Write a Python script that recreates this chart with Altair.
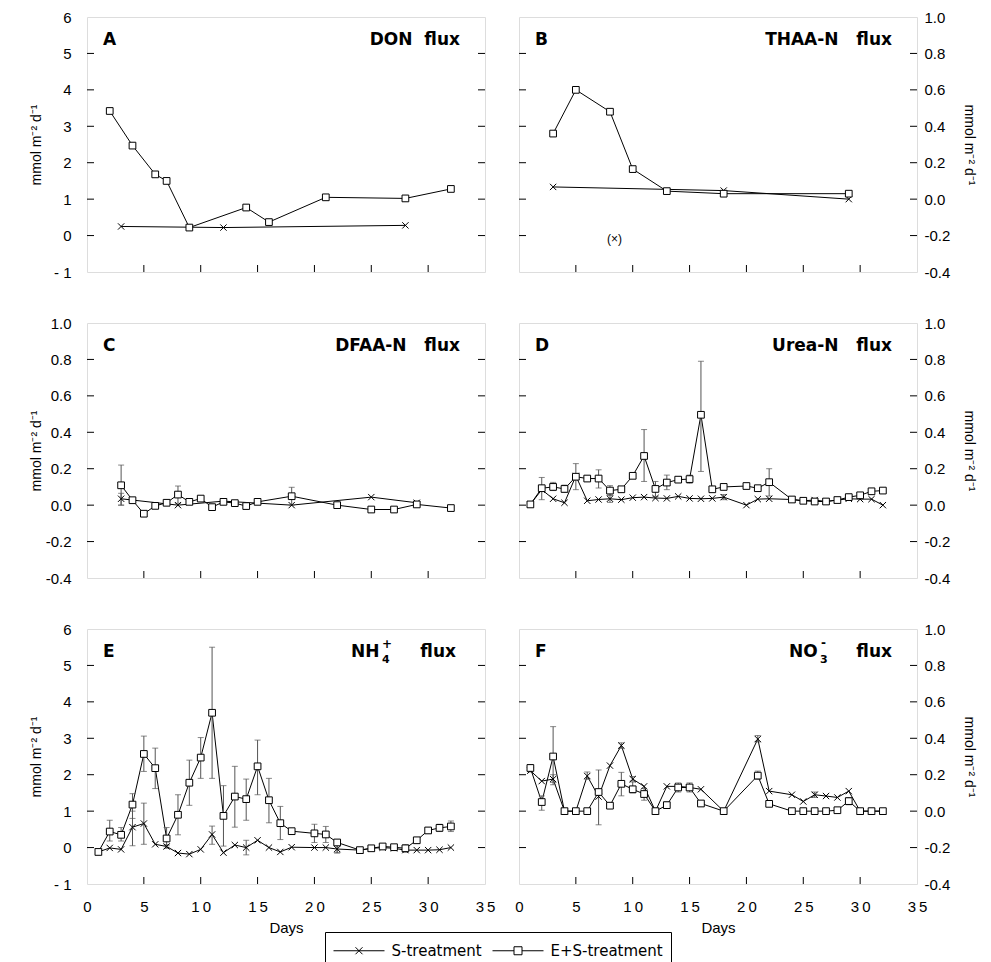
import altair as alt
import pandas as pd

TREATMENTS = ["S-treatment", "E+S-treatment"]
DAY_TICKS = [0, 5, 10, 15, 20, 25, 30, 35]
BIG_TICKS = [-1, 0, 1, 2, 3, 4, 5, 6]
SMALL_TICKS = [-0.4, -0.2, 0.0, 0.2, 0.4, 0.6, 0.8, 1.0]

# ---- Panel A: DON flux ----
A_S_day = [3, 12, 28]
A_S_val = [0.25, 0.22, 0.28]
A_S_err = {}
A_ES_day = [2, 4, 6, 7, 9, 14, 16, 21, 28, 32]
A_ES_val = [3.42, 2.47, 1.68, 1.50, 0.22, 0.77, 0.37, 1.05, 1.02, 1.28]
A_ES_err = {}

# ---- Panel B: THAA-N flux ----
B_S_day = [3, 18, 29]
B_S_val = [0.067, 0.047, 0.0]
B_S_err = {}
B_ES_day = [3, 5, 8, 10, 13, 18, 29]
B_ES_val = [0.36, 0.60, 0.48, 0.165, 0.044, 0.03, 0.03]
B_ES_err = {}
B_NOTE_DAY = [8.4]
B_NOTE_VAL = [-0.22]
B_NOTE_TEXT = ["(×)"]

# ---- Panel C: DFAA-N flux ----
C_S_day = [3, 8, 12, 18, 25, 29]
C_S_val = [0.035, 0.0, 0.022, 0.0, 0.044, 0.013]
C_S_err = {3: (0.0, 0.065)}
C_ES_day = [3, 4, 5, 6, 7, 8, 9, 10, 11, 12, 13, 14, 15, 18, 22, 25, 27, 29, 32]
C_ES_val = [0.109, 0.027, -0.047, -0.004, 0.013, 0.058, 0.018, 0.036, -0.011, 0.018,
            0.011, -0.005, 0.018, 0.049, 0.0, -0.024, -0.024, 0.004, -0.016]
C_ES_err = {3: (0.0, 0.22), 5: (-0.055, -0.04), 8: (0.01, 0.105), 10: (0.028, 0.044),
            18: (0.0, 0.098)}

# ---- Panel D: Urea-N flux ----
D_days = [1, 2, 3, 4, 5, 6, 7, 8, 9, 10, 11, 12, 13, 14, 15, 16, 17, 18, 20, 21, 22,
          24, 25, 26, 27, 28, 29, 30, 31, 32]
D_S_val = [0.004, 0.085, 0.035, 0.013, 0.16, 0.024, 0.031, 0.035, 0.03, 0.041, 0.044,
           0.039, 0.037, 0.048, 0.037, 0.035, 0.037, 0.044, 0.0, 0.033, 0.035, 0.031,
           0.024, 0.028, 0.02, 0.028, 0.035, 0.033, 0.033, 0.0]
D_S_err = {8: (0.015, 0.055), 18: (0.03, 0.058)}
D_ES_val = [0.004, 0.093, 0.10, 0.089, 0.156, 0.146, 0.146, 0.08, 0.087, 0.161, 0.27,
            0.089, 0.124, 0.14, 0.143, 0.496, 0.087, 0.10, 0.105, 0.093, 0.126, 0.031,
            0.024, 0.02, 0.02, 0.028, 0.044, 0.054, 0.076, 0.08]
D_ES_err = {2: (0.03, 0.152), 3: (0.08, 0.125), 4: (0.07, 0.11), 5: (0.085, 0.228),
            6: (0.13, 0.16), 7: (0.094, 0.194), 8: (0.054, 0.107), 10: (0.15, 0.17),
            11: (0.13, 0.415), 12: (0.048, 0.13), 13: (0.085, 0.165), 14: (0.125, 0.155),
            15: (0.12, 0.165), 16: (0.185, 0.79), 18: (0.09, 0.11), 21: (0.078, 0.108),
            22: (0.05, 0.2), 26: (0.01, 0.035), 29: (0.03, 0.06), 30: (0.04, 0.068),
            31: (0.06, 0.09)}

# ---- Panel E: NH4+ flux ----
E_days = [1, 2, 3, 4, 5, 6, 7, 8, 9, 10, 11, 12, 13, 14, 15, 16, 17, 18, 20, 21, 22,
          24, 25, 26, 27, 28, 29, 30, 31, 32]
E_S_val = [-0.12, -0.01, -0.05, 0.56, 0.66, 0.09, 0.03, -0.15, -0.18, -0.05, 0.36,
           -0.14, 0.07, 0.0, 0.2, 0.0, -0.12, 0.01, 0.0, 0.0, -0.04, -0.07, -0.02, 0.0,
           -0.02, -0.07, -0.07, -0.07, -0.06, 0.0]
E_S_err = {4: (0.05, 1.0), 5: (0.09, 1.22), 7: (-0.02, 0.08), 11: (0.09, 0.59),
           14: (-0.2, 0.2), 22: (-0.14, 0.06), 28: (-0.12, 0.0)}
E_ES_val = [-0.12, 0.44, 0.35, 1.18, 2.57, 2.18, 0.25, 0.9, 1.78, 2.47, 3.7, 0.87, 1.4,
            1.33, 2.23, 1.3, 0.67, 0.45, 0.39, 0.36, 0.14, -0.07, -0.02, 0.03, 0.01,
            -0.02, 0.2, 0.47, 0.54, 0.58]
E_ES_err = {2: (0.18, 0.75), 3: (0.18, 0.55), 4: (0.8, 1.48), 5: (2.09, 3.06),
            6: (1.62, 2.73), 7: (0.05, 0.55), 8: (0.35, 1.45), 9: (1.16, 2.4),
            10: (1.9, 3.02), 11: (1.9, 5.5), 12: (0.04, 1.7), 13: (0.56, 2.23),
            14: (0.75, 1.88), 15: (1.45, 2.95), 16: (0.68, 1.9), 17: (0.22, 1.13),
            20: (0.14, 0.64), 21: (0.14, 0.58), 22: (-0.15, 0.2), 28: (-0.12, 0.08),
            30: (0.39, 0.55), 31: (0.44, 0.64), 32: (0.44, 0.73)}

# ---- Panel F: NO3- flux ----
F_days = [1, 2, 3, 4, 5, 6, 7, 8, 9, 10, 11, 12, 13, 14, 15, 16, 18, 21, 22, 24, 25,
          26, 27, 28, 29, 30, 31, 32]
F_S_val = [0.222, 0.165, 0.176, 0.0, 0.0, 0.193, 0.08, 0.25, 0.36, 0.176, 0.136, 0.0,
           0.136, 0.136, 0.13, 0.12, 0.0, 0.396, 0.11, 0.09, 0.053, 0.09, 0.083, 0.075,
           0.11, 0.0, 0.0, 0.0]
F_S_err = {3: (0.145, 0.2), 6: (0.175, 0.215), 9: (0.345, 0.375), 10: (0.165, 0.19),
           21: (0.38, 0.415), 26: (0.075, 0.105)}
F_ES_val = [0.237, 0.05, 0.30, 0.0, 0.0, 0.0, 0.105, 0.03, 0.15, 0.12, 0.094, 0.0, 0.033,
            0.13, 0.13, 0.042, 0.0, 0.195, 0.04, 0.0, 0.0, 0.0, 0.0, 0.005, 0.055, 0.0,
            0.0, 0.0]
F_ES_err = {1: (0.215, 0.255), 2: (0.005, 0.084), 3: (0.158, 0.464), 7: (-0.075, 0.226),
            9: (0.084, 0.213), 10: (0.10, 0.16), 11: (0.06, 0.125), 13: (0.015, 0.05),
            14: (0.105, 0.155), 15: (0.105, 0.155), 21: (0.175, 0.22), 29: (0.035, 0.075)}

# ---------------------------------------------------------------------------
W, H = 398, 255
FONT = "Liberation Sans"
BOLD = "DejaVu Sans"
ERR = "#555555"
X_PATH = "M-1,-1L1,1M-1,1L1,-1"
LEG_S = "M-2.55,0L2.55,0M-0.35,-0.35L0.35,0.35M-0.35,0.35L0.35,-0.35"
LEG_ES = "M-2.55,0L-0.4,0M0.4,0L2.55,0M-0.4,-0.4L0.4,-0.4L0.4,0.4L-0.4,0.4Z"
YTITLE = "mmol m⁻² d⁻¹"
BIG_EXPR = "datum.value < 0 ? '- ' + format(-datum.value, 'd') : format(datum.value, 'd')"
SMALL_EXPR = "datum.value < 0 ? '-' + format(-datum.value, '.1f') : format(datum.value, '.1f')"
X_EXPR = ("datum.value >= 10 ? slice(toString(datum.value), 0, 1) + '\u2009' + "
          "slice(toString(datum.value), 1) : toString(datum.value)")


def build(s_day, s_val, s_err, es_day, es_val, es_err):
    rows = []
    for name, days, vals, err in [(TREATMENTS[0], s_day, s_val, s_err),
                                  (TREATMENTS[1], es_day, es_val, es_err)]:
        for d, v in zip(days, vals):
            lo, hi = err.get(d, (None, None))
            rows.append({"day": d, "value": v, "treatment": name, "lo": lo, "hi": hi})
    return pd.DataFrame(rows)


def yaxis(right, ticks, expr):
    common = dict(values=ticks, labelExpr=expr, ticks=False, domain=False, grid=False,
                  labelFont=FONT, labelFontSize=15, labelColor="black",
                  title=YTITLE, titleFont=FONT, titleFontSize=14, titleFontWeight="normal",
                  titleColor="black", titleY=H / 2, titleAlign="center",
                  titleBaseline="middle")
    if right:
        return alt.Axis(orient="right", titleX=51, titleAngle=90, labelAlign="left",
                        labelPadding=7, **common)
    return alt.Axis(orient="left", titleX=-51, titleAngle=270, labelPadding=16, **common)


def xaxis():
    return alt.Axis(values=DAY_TICKS, labelExpr=X_EXPR, ticks=False, domain=False,
                    grid=False, labelFont=FONT, labelFontSize=15, labelColor="black",
                    labelPadding=15, labelFlush=False, title="Days", titleFont=FONT,
                    titleFontSize=15, titleFontWeight="normal", titleColor="black",
                    titlePadding=6)


DUMMY = pd.DataFrame({"k": [0]})


def panel(df, big, right, xlabels, letter, pieces, note=None, legend=False):
    ydom = [-1, 6] if big else [-0.4, 1.0]
    yt = BIG_TICKS if big else SMALL_TICKS
    expr = BIG_EXPR if big else SMALL_EXPR
    xs = alt.Scale(domain=[0, 35], nice=False, zero=False)
    ys = alt.Scale(domain=ydom, nice=False, zero=False)
    yax = yaxis(right, yt, expr)

    def X(field):
        if xlabels:
            return alt.X(field, scale=xs, axis=xaxis())
        return alt.X(field, scale=xs, axis=None)

    def Y(field):
        return alt.Y(field, scale=ys, axis=yax)

    base = alt.Chart(df)
    line = base.mark_line(color="black", strokeWidth=1).encode(
        x=X("day:Q"), y=Y("value:Q"), detail="treatment:N")

    errdf = base.transform_filter("isValid(datum.lo)")
    err = errdf.mark_rule(color=ERR, strokeWidth=1).encode(
        x=X("day:Q"), y=Y("lo:Q"), y2="hi:Q")
    cap_lo = errdf.mark_tick(orient="horizontal", color=ERR, size=6, thickness=1).encode(
        x=X("day:Q"), y=Y("lo:Q"))
    cap_hi = errdf.mark_tick(orient="horizontal", color=ERR, size=6, thickness=1).encode(
        x=X("day:Q"), y=Y("hi:Q"))

    pts_s = base.transform_filter(alt.datum.treatment == TREATMENTS[0]).mark_point(
        shape=X_PATH, size=40, filled=False, color="black", strokeWidth=1, opacity=1
    ).encode(x=X("day:Q"), y=Y("value:Q"))
    pts_es = base.transform_filter(alt.datum.treatment == TREATMENTS[1]).mark_point(
        shape="square", size=45, filled=True, fill="white", stroke="black",
        strokeWidth=1, opacity=1
    ).encode(x=X("day:Q"), y=Y("value:Q"))

    tb = alt.Chart(pd.DataFrame({"t": DAY_TICKS[1:-1]})).mark_rule(
        color="black", strokeWidth=1).encode(
        x=X("t:Q"), y=alt.value(H), y2=alt.value(H - 7))
    tl = alt.Chart(pd.DataFrame({"t": yt[1:-1]})).mark_rule(
        color="black", strokeWidth=1).encode(
        y=Y("t:Q"), x=alt.value(0), x2=alt.value(7))
    tr = alt.Chart(pd.DataFrame({"t": yt[1:-1]})).mark_rule(
        color="black", strokeWidth=1).encode(
        y=Y("t:Q"), x=alt.value(W - 7), x2=alt.value(W))

    layers = [line, tb, tl, tr, err, cap_lo, cap_hi, pts_s, pts_es]

    layers.append(alt.Chart(DUMMY).mark_text(
        text=letter, align="left", baseline="alphabetic", font=BOLD, fontWeight="bold",
        fontSize=17, color="black").encode(x=alt.value(16), y=alt.value(28)))
    for txt, px, py, fs, al in pieces:
        layers.append(alt.Chart(DUMMY).mark_text(
            text=txt, align=al, baseline="alphabetic", font=BOLD, fontWeight="bold",
            fontSize=fs, color="black").encode(x=alt.value(px), y=alt.value(py)))

    if note is not None:
        ndf = pd.DataFrame({"day": note[0], "value": note[1], "label": note[2]})
        layers.append(alt.Chart(ndf).mark_text(font=FONT, fontSize=12, color="black").encode(
            x=X("day:Q"), y=Y("value:Q"), text="label:N"))

    if legend:
        leg = alt.Chart(pd.DataFrame({"leg": TREATMENTS})).mark_point(
            filled=False, color="black", clip=True).encode(
            x=alt.value(-300), y=alt.value(-300),
            shape=alt.Shape("leg:N", scale=alt.Scale(domain=TREATMENTS, range=[LEG_S, LEG_ES]),
                            legend=alt.Legend(
                                orient="none", legendX=238, legendY=915,
                                direction="horizontal", title=None,
                                strokeColor="black", padding=8,
                                symbolSize=400, symbolOffset=15.5,
                                symbolStrokeColor="black",
                                symbolStrokeWidth=1, symbolFillColor="white",
                                symbolOpacity=1, labelFont=BOLD, labelFontSize=15,
                                labelColor="black", labelOffset=22, columnPadding=8)))
        layers.append(leg)

    return alt.layer(*layers).properties(width=W, height=H)


TITLE_R = W - 25
pA = panel(build(A_S_day, A_S_val, A_S_err, A_ES_day, A_ES_val, A_ES_err), True, False,
           False, "A", [("DON\u00a0\u00a0flux", TITLE_R, 28, 17, "right")])
pB = panel(build(B_S_day, B_S_val, B_S_err, B_ES_day, B_ES_val, B_ES_err), False, True,
           False, "B", [("THAA-N\u00a0\u00a0\u00a0flux", TITLE_R, 28, 17, "right")],
           note=(B_NOTE_DAY, B_NOTE_VAL, B_NOTE_TEXT))
pC = panel(build(C_S_day, C_S_val, C_S_err, C_ES_day, C_ES_val, C_ES_err), False, False,
           False, "C", [("DFAA-N\u00a0\u00a0\u00a0flux", TITLE_R, 28, 17, "right")])
pD = panel(build(D_days, D_S_val, D_S_err, D_days, D_ES_val, D_ES_err), False, True,
           False, "D", [("Urea-N\u00a0\u00a0\u00a0flux", TITLE_R, 28, 17, "right")])
pE = panel(build(E_days, E_S_val, E_S_err, E_days, E_ES_val, E_ES_err), True, False,
           True, "E", [("NH", 264, 28, 17, "left"), ("4", 295, 34, 11, "left"),
                       ("+", 295, 19, 12, "left"), ("flux", W - 29, 28, 17, "right")],
           legend=True)
pF = panel(build(F_days, F_S_val, F_S_err, F_days, F_ES_val, F_ES_err), False, True,
           True, "F", [("NO", 270, 28, 17, "left"), ("3", 301, 34, 11, "left"),
                       ("-", 302, 18, 12, "left"), ("flux", TITLE_R, 28, 17, "right")])

row1 = alt.hconcat(pA, pB, spacing=34, bounds="flush")
row2 = alt.hconcat(pC, pD, spacing=34, bounds="flush")
row3 = alt.hconcat(pE, pF, spacing=34, bounds="flush")

chart = alt.vconcat(row1, row2, row3, spacing=34).properties(
    padding={"left": 20, "top": 1, "right": 5, "bottom": 0}
).configure_view(stroke="#111111", strokeWidth=1).configure(font=FONT)

chart.save("out.html", embed_options={"renderer": "svg", "actions": False})
